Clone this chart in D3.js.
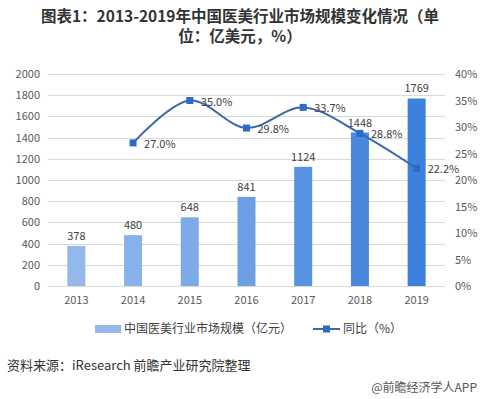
<!DOCTYPE html>
<html><head><meta charset="utf-8">
<script src="https://cdn.jsdelivr.net/npm/d3@7"></script>
<style>body{margin:0;background:#fff}svg{display:block}</style>
</head><body>
<svg id="c" width="480" height="399"></svg>
<script>
const years = ["2013","2014","2015","2016","2017","2018","2019"];
const marketSize = [378,480,648,841,1124,1448,1769];
const growthYears = ["2014","2015","2016","2017","2018","2019"];
const growth = [27.0,35.0,29.8,33.7,28.8,22.2];
const leftTicks = [0,200,400,600,800,1000,1200,1400,1600,1800,2000];
const rightTicks = [0,5,10,15,20,25,30,35,40];
const barColors = ["#92b8ec","#88b2ea","#7eaae8","#6c9ee4","#5893e1","#4888df","#3d81de"];

const svg = d3.select("#c");
const font = "'Noto Sans CJK SC','Noto Sans',sans-serif";
const L = 48, R = 445, T = 74, B = 286;
const x = d3.scaleBand().domain(years).range([L,R]);
const y = d3.scaleLinear().domain([0,2000]).range([B,T]);
const y2 = d3.scaleLinear().domain([0,40]).range([B,T]);

// title
const title = svg.append("text").attr("text-anchor","middle").attr("font-family",font)
  .attr("font-weight","bold").attr("font-size",15.5).attr("fill","#333");
title.append("tspan").attr("x",240).attr("y",22).text("图表1：2013-2019年中国医美行业市场规模变化情况（单");
title.append("tspan").attr("x",240).attr("y",42).text("位：亿美元，%）");

// gridlines
svg.append("g").selectAll("line").data(leftTicks).join("line")
  .attr("x1",L).attr("x2",R).attr("y1",d=>Math.round(y(d))+0.5).attr("y2",d=>Math.round(y(d))+0.5)
  .attr("stroke","#d9d9d9").attr("stroke-width",1);

// left axis
const ga = svg.append("g").attr("transform",`translate(${L-8},0)`)
  .call(d3.axisLeft(y).tickValues(leftTicks).tickSize(0).tickPadding(0).tickFormat(d3.format("d")));
ga.select(".domain").remove();
ga.selectAll("text").attr("font-family",font).attr("font-size",11).attr("fill","#595959");

// right axis
const gr = svg.append("g").attr("transform",`translate(${R+10},0)`)
  .call(d3.axisRight(y2).tickValues(rightTicks).tickSize(0).tickPadding(0).tickFormat(d=>d+"%"));
gr.select(".domain").remove();
gr.selectAll("text").attr("font-family",font).attr("font-size",11).attr("fill","#595959");

// x axis
const gx = svg.append("g").attr("transform",`translate(0,${B+8})`)
  .call(d3.axisBottom(x).tickSize(0).tickPadding(0));
gx.select(".domain").remove();
gx.selectAll("text").attr("font-family",font).attr("font-size",11).attr("fill","#595959").attr("dy","0.9em");

// bars
const bw = 18;
svg.append("g").selectAll("rect").data(years).join("rect")
  .attr("x",(d)=>x(d)+x.bandwidth()/2-bw/2).attr("width",bw)
  .attr("y",(d,i)=>y(marketSize[i])).attr("height",(d,i)=>B-y(marketSize[i]))
  .attr("fill",(d,i)=>barColors[i]);
svg.append("g").selectAll("text").data(years).join("text")
  .attr("x",d=>x(d)+x.bandwidth()/2).attr("y",(d,i)=>y(marketSize[i])-6)
  .attr("text-anchor","middle").attr("font-family",font).attr("font-size",11).attr("fill","#404040")
  .text((d,i)=>marketSize[i]);

// line
const pts = growthYears.map((d,i)=>[x(d)+x.bandwidth()/2, y2(growth[i])]);
svg.append("path").attr("d",d3.line().curve(d3.curveCatmullRom.alpha(0.5))(pts))
  .attr("fill","none").attr("stroke","#3a68a8").attr("stroke-width",2);
svg.append("g").selectAll("rect").data(pts).join("rect")
  .attr("x",d=>d[0]-3.5).attr("y",d=>d[1]-3.5).attr("width",7).attr("height",7).attr("fill","#2d6bc4");
svg.append("g").selectAll("text").data(pts).join("text")
  .attr("x",d=>d[0]+11).attr("y",d=>d[1]+5)
  .attr("font-family",font).attr("font-size",11).attr("fill","#404040")
  .text((d,i)=>growth[i].toFixed(1)+"%");

// legend
svg.append("rect").attr("x",95).attr("y",325).attr("width",26).attr("height",8).attr("fill","#92b8ec");
svg.append("text").attr("x",124).attr("y",333).attr("font-family",font).attr("font-size",12).attr("fill","#404040")
  .text("中国医美行业市场规模（亿元）");
svg.append("line").attr("x1",313).attr("x2",340).attr("y1",329).attr("y2",329).attr("stroke","#3a68a8").attr("stroke-width",2);
svg.append("rect").attr("x",323).attr("y",325.5).attr("width",7).attr("height",7).attr("fill","#2d6bc4");
svg.append("text").attr("x",343).attr("y",333).attr("font-family",font).attr("font-size",12).attr("fill","#404040")
  .text("同比（%）");

// source
svg.append("text").attr("x",7).attr("y",370).attr("font-family",font).attr("font-size",13).attr("fill","#333")
  .text("资料来源：iResearch 前瞻产业研究院整理");
svg.append("text").attr("x",477).attr("y",392).attr("text-anchor","end").attr("font-family",font).attr("font-size",12).attr("fill","#555")
  .text("@前瞻经济学人APP");
</script>
</body></html>
